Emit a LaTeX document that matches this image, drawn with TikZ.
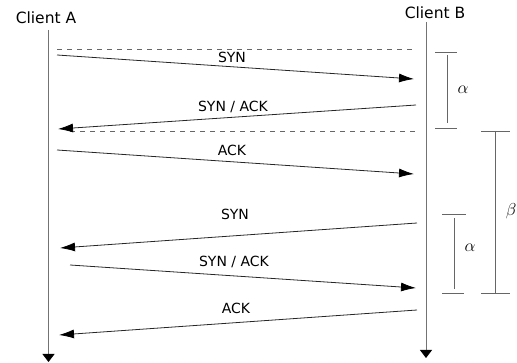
\documentclass[tikz,border=0pt]{standalone}
\usepackage{fontspec}
\setmainfont{DejaVu Sans}
\usetikzlibrary{arrows.meta}
\begin{document}
\begin{tikzpicture}[x=1pt,y=-1pt,
  lbl/.style={font=\fontsize{14}{16}\selectfont, inner sep=0pt},
  cli/.style={font=\fontsize{15.5}{17}\selectfont, inner sep=0pt},
  greek/.style={font=\fontsize{16}{18}\selectfont, inner sep=0pt},
  life/.style={draw=black!55, line width=0.9pt, -{Triangle[length=8pt,width=12pt,fill=black,color=black]}},
  msg/.style={draw=black!85, line width=0.8pt, -{Latex[length=15pt,width=9pt,fill=black,color=black]}},
  sep/.style={draw=black!60, line width=0.6pt, dash pattern=on 5pt off 5pt},
  brk/.style={draw=black!60, line width=0.9pt}]
\useasboundingbox (0,0) rectangle (517,363);
% clients
\node[cli] (ca) at (46,18) {Client A};
\node[cli] (cb) at (435,13) {Client B};
\coordinate (atop) at (48.5,30);
\coordinate (abot) at (48.5,362);
\coordinate (btop) at (426,22);
\coordinate (bbot) at (426,358);
\draw[life] (atop) -- (abot);
\draw[life] (btop) -- (bbot);
% separators
\coordinate (d1a) at (57,49); \coordinate (d1b) at (416,49);
\coordinate (d2a) at (70,131); \coordinate (d2b) at (416,131);
\draw[sep] (d1a) -- (d1b);
\draw[sep] (d2a) -- (d2b);
% messages
\coordinate (m1a) at (57,55);  \coordinate (m1b) at (414,79);
\coordinate (m2a) at (416,105); \coordinate (m2b) at (58,129);
\coordinate (m3a) at (57,150); \coordinate (m3b) at (414,174);
\coordinate (m4a) at (417,223); \coordinate (m4b) at (60,248);
\coordinate (m5a) at (70,265); \coordinate (m5b) at (416,288);
\coordinate (m6a) at (417,310); \coordinate (m6b) at (59,335);
\draw[msg] (m1a) -- (m1b);
\draw[msg] (m2a) -- (m2b);
\draw[msg] (m3a) -- (m3b);
\draw[msg] (m4a) -- (m4b);
\draw[msg] (m5a) -- (m5b);
\draw[msg] (m6a) -- (m6b);
\node[lbl] (l1) at (232,57) {SYN};
\node[lbl] (l2) at (233,107) {SYN / ACK};
\node[lbl] (l3) at (232,150) {ACK};
\node[lbl] (l4) at (235,214) {SYN};
\node[lbl] (l5) at (234,262) {SYN / ACK};
\node[lbl] (l6) at (236,308) {ACK};
% alpha 1
\coordinate (a1t) at (447,55); \coordinate (a1b) at (447,123);
\draw[brk] (435,52) -- (457,52);
\draw[brk] (435,128) -- (457,128);
\draw[brk] (a1t) -- (a1b);
\node[greek] (al1) at (463,90) {$\alpha$};
% beta
\coordinate (bt) at (495,131); \coordinate (bb) at (495,293);
\draw[brk] (481,131) -- (510,131);
\draw[brk] (481,293) -- (510,293);
\draw[brk] (bt) -- (bb);
\node[greek] (be) at (511,211) {$\beta$};
% alpha 2
\coordinate (a2t) at (454,218); \coordinate (a2b) at (454,289);
\draw[brk] (442,214) -- (466,214);
\draw[brk] (442,293) -- (464,293);
\draw[brk] (a2t) -- (a2b);
\node[greek] (al2) at (470,248) {$\alpha$};
\end{tikzpicture}
\end{document}
